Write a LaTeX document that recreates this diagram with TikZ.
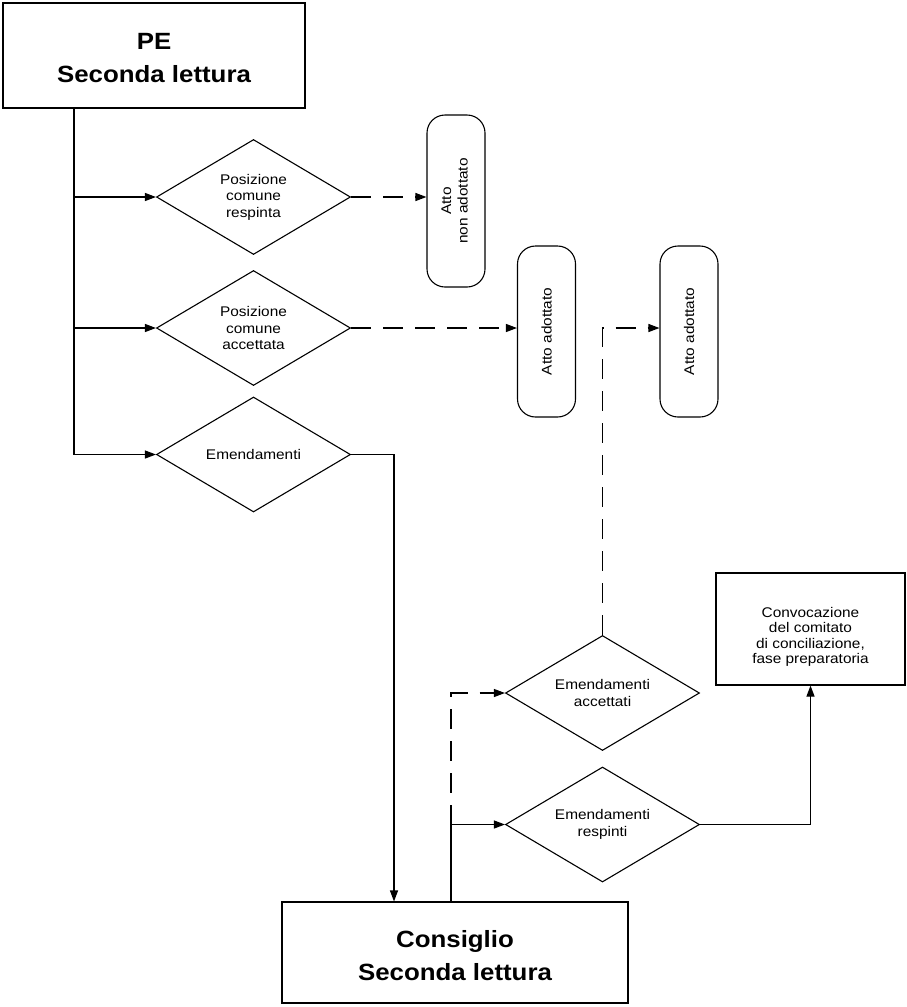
\documentclass[tikz,border=0pt]{standalone}
\usepackage{fontspec}
\setmainfont{Liberation Sans}[FakeStretch=1.1]
\usetikzlibrary{shapes.geometric,arrows.meta}
\begin{document}
\begin{tikzpicture}[x=1pt,y=-1pt,
  base/.style={draw, line width=1.1pt, inner sep=0pt},
  txt/.style={font=\fontsize{14}{16.5}\selectfont},
  box/.style={base, rectangle, txt, align=center},
  title/.style={base, rectangle, font=\fontsize{23.5}{33}\selectfont\bfseries, align=center},
  dec/.style={base, diamond, minimum width=194pt, minimum height=115pt, aspect=1.7, txt, align=center},
  rbox/.style={base, rectangle, rounded corners=18pt, minimum width=58pt, minimum height=171pt, txt},
  conn/.style={line width=1.1pt, -{Triangle[length=11pt,width=8pt]}},
  dconn/.style={conn, dash pattern=on 20pt off 12pt}
]
\useasboundingbox (0,0) rectangle (907,1007);

\node[title, minimum width=302pt, minimum height=105pt] (pe) at (154,55.5) {\rule{0pt}{21.5pt}PE\\Seconda lettura};
\node[dec] (d1) at (253.5,197) {Posizione\\comune\\respinta};
\node[dec] (d2) at (253.5,328) {Posizione\\comune\\accettata};
\node[dec] (d3) at (253.5,454.5) {Emendamenti};
\node[dec] (d4) at (602.5,693) {Emendamenti\\accettati};
\node[dec] (d5) at (602.5,824.5) {Emendamenti\\respinti};
\node[rbox, minimum height=172pt] (r1) at (456,201) {\rotatebox{90}{\begin{tabular}{@{}c@{}}Atto\\non adottato\end{tabular}}};
\node[rbox] (r2) at (546.5,331.5) {\rotatebox{90}{Atto adottato}};
\node[rbox] (r3) at (689,331.5) {\rotatebox{90}{Atto adottato}};
\node[box, font=\fontsize{14}{15.5}\selectfont, minimum width=189pt, minimum height=112pt] (cv) at (810.5,629) {\rule{0pt}{26pt}Convocazione\\del comitato\\di conciliazione,\\fase preparatoria};
\node[title, minimum width=346pt, minimum height=101pt] (cs) at (455,952.5) {\rule{0pt}{23.5pt}Consiglio\\Seconda lettura};

\coordinate (t) at ([xshift=-80pt]pe.south);
\draw[conn] (t) |- (d3.west);
\draw[conn] (t |- d1.west) -- (d1.west);
\draw[conn] (t |- d2.west) -- (d2.west);
\draw[dconn] (d1.east) -- (d1.east -| r1.west);
\draw[dconn] (d2.east) -- (d2.east -| r2.west);
\draw[conn] (d3.east) -| ([xshift=-61pt]cs.north);
\coordinate (u) at ([xshift=-4pt]cs.north);
\draw[conn] (u) |- (d5.west);
\draw[dconn] (u |- d5.west) |- (d4.west);
\draw[dconn] (d4.north) |- (d2.east -| r3.west);
\draw[conn] (d5.east) -| (cv.south);
\end{tikzpicture}
\end{document}
